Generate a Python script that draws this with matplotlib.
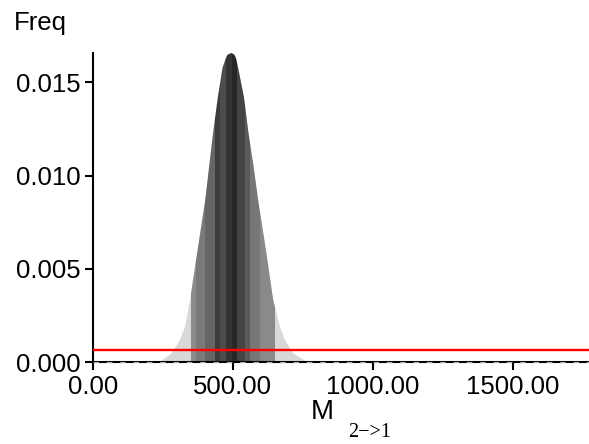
import matplotlib
matplotlib.use("Agg")
import matplotlib.pyplot as plt
from matplotlib.patches import Polygon
import numpy as np

# Posterior density curve
curve_x = [0, 240, 281, 311, 329, 347, 374, 401, 416, 430, 446, 463, 475, 481, 495,
           505, 511, 519, 540, 555, 573, 591, 618, 644, 668, 686, 716, 764, 1773]
curve_y = [0.0, 0.00003, 0.00048, 0.00119, 0.00191, 0.00334, 0.00602, 0.00866,
           0.01059, 0.01237, 0.01416, 0.01577, 0.01630, 0.01648, 0.01657, 0.01648,
           0.01630, 0.01577, 0.01416, 0.01237, 0.01059, 0.00862, 0.00602, 0.00334,
           0.00191, 0.00119, 0.00048, 0.00003, 0.0]

# Shaded percentile bands
band_edges = [350, 368, 400, 436, 454, 475, 497, 515, 543, 561, 597, 650]
band_colors = ["#8c8c8c", "#7a7a7a", "#666666", "#3c3c3c", "#4c4c4c", "#333333",
               "#262626", "#444444", "#5a5a5a", "#777777", "#8a8a8a"]

red_level = 0.00064

x_ticks = [0, 500, 1000, 1500]
x_tick_labels = ["0.00", "500.00", "1000.00", "1500.00"]
y_ticks = [0.0, 0.005, 0.010, 0.015]
y_tick_labels = ["0.000", "0.005", "0.010", "0.015"]

plt.rcParams['font.family'] = ['Liberation Sans', 'DejaVu Sans']

fig = plt.figure(figsize=(5.89, 4.44), dpi=100)
ax = fig.add_axes([93/589, (444-362.3)/444, 1-93/589, (362.3-53)/444])

pts = np.column_stack([curve_x, curve_y])
poly = Polygon(pts, closed=True, facecolor="#d8d8d8", edgecolor="none", zorder=1)
ax.add_patch(poly)

for i, c in enumerate(band_colors):
    sp = ax.axvspan(band_edges[i], band_edges[i+1], color=c, lw=0, zorder=2)
    sp.set_clip_path(poly)

ax.axhline(red_level, color="#ff0000", lw=1.7, zorder=4)
ax.axhline(0, color="#b0b0b0", lw=0.8, dashes=(5, 7), zorder=5, clip_on=False)

ax.set_xlim(0, 1773)
ax.set_ylim(0, 0.01657)

ax.set_xticks(x_ticks)
ax.set_xticklabels(x_tick_labels)
ax.set_yticks(y_ticks)
ax.set_yticklabels(y_tick_labels)

for s in ["top", "right"]:
    ax.spines[s].set_visible(False)
for s in ["left", "bottom"]:
    ax.spines[s].set_linewidth(1.5)
    ax.spines[s].set_color("black")
ax.tick_params(axis="both", length=6, width=1.5, labelsize=18.5, pad=3, colors="black")

fig.text(14/589, 1-30/444, "Freq", fontsize=18.5, ha="left", va="baseline")
fig.text(322/589, 1-419/444, "M", fontsize=20, ha="center", va="baseline")
fig.text(348/589, 1-437/444, "2\u2212>1", fontsize=14.5, ha="left", va="baseline",
         family=["Liberation Serif", "DejaVu Serif"])

fig.savefig("out.png", dpi=100)
